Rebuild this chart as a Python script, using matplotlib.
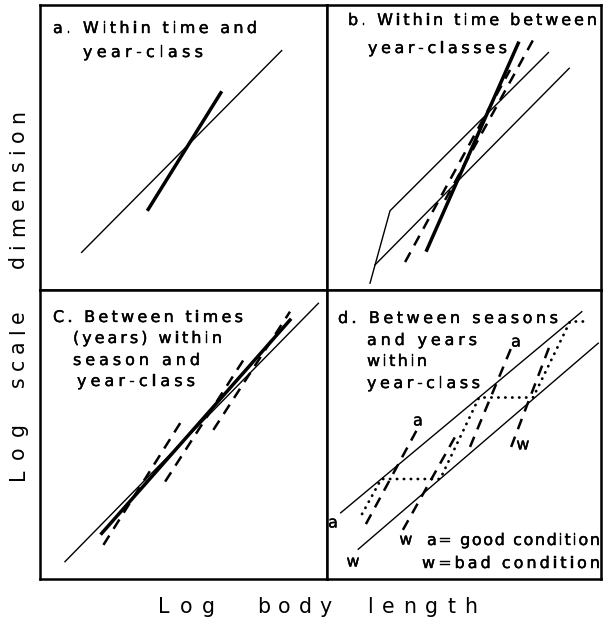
import matplotlib
matplotlib.use('Agg')
import matplotlib.pyplot as plt
import matplotlib.patheffects as pe
from matplotlib.font_manager import FontProperties, findfont, get_font

W, H, DPI = 606, 619, 100

# panel a: within time and year-class
a_thin_x = [14.5, 84.2]
a_thin_y = [13.2, 84.0]
a_thick_x = [37.7, 63.0]
a_thick_y = [28.3, 69.2]

# panel b: within time between year-classes
b_lower_x = [17.5, 88.4]
b_lower_y = [8.8, 77.8]
b_upper_x = [15.7, 23.0, 80.8]
b_upper_y = [2.4, 27.8, 83.3]
b_thick_x = [36.4, 69.8]
b_thick_y = [14.0, 86.6]
b_dash_x = [[28.5, 66.8], [43.1, 75.2]]
b_dash_y = [[9.8, 77.2], [31.6, 87.7]]

# panel c: between times within season and year-class
c_thin_x = [8.7, 97.0]
c_thin_y = [6.0, 95.4]
c_thick_x = [21.5, 87.1]
c_thick_y = [15.8, 89.6]
c_dash_x = [[22.1, 49.9], [43.6, 72.0], [60.4, 87.1]]
c_dash_y = [[11.8, 55.6], [33.7, 77.5], [51.6, 92.5]]

# panel d: between seasons and years, a = good, w = bad condition
d_good_x = [5.0, 93.0]
d_good_y = [22.9, 92.5]
d_bad_x = [11.4, 99.0]
d_bad_y = [10.3, 81.6]
d_path_x = [12.8, 19.8, 41.3, 55.5, 75.2, 88.7, 94.0]
d_path_y = [22.5, 34.6, 34.6, 62.8, 62.8, 89.1, 89.1]
d_dash_x = [[14.2, 32.8], [27.7, 46.7], [52.2, 67.2], [67.2, 81.4]]
d_dash_y = [[19.0, 51.6], [17.0, 49.1], [45.7, 79.9], [45.7, 81.0]]
d_mark_text = ['a', 'w', 'a', 'w', 'a', 'w']
d_mark_x = [2.2, 9.5, 33.2, 28.8, 69.0, 71.5]
d_mark_y = [19.4, 5.9, 54.7, 13.5, 82.0, 46.4]

THIN = 1.0
THICK = 2.5
DASH = dict(color='black', lw=1.8, linestyle=(0, (4.4, 3.2)))
DOT = dict(color='black', lw=2.0, linestyle=(0, (0.1, 2.4)),
           dash_capstyle='round')
# a little extra weight on the panel lettering
HEAVY = [pe.withStroke(linewidth=0.3, foreground='black')]


def spread_text(fig, s, start, end, base, size, rotation=0, effects=None):
    # letter-spaced text: characters are spread evenly between start and end
    # (pixels from the left / top of the figure)
    fp = FontProperties(family='DejaVu Sans', size=size)
    font = get_font(findfont(fp))
    font.set_size(size, DPI)
    adv = [font.load_char(ord(ch)).linearHoriAdvance / 65536 for ch in s]
    gap = (abs(end - start) - sum(adv)) / max(len(s) - 1, 1)
    pos = 0.0
    for ch, w in zip(s, adv):
        if ch != ' ':
            if rotation == 90:
                xy = (base / W, 1 - (start - pos) / H)
            else:
                xy = ((start + pos) / W, 1 - base / H)
            t = fig.text(xy[0], xy[1], ch, fontproperties=fp, rotation=rotation,
                         rotation_mode='anchor', ha='left', va='baseline')
            if effects:
                t.set_path_effects(effects)
        pos += w + gap


def setup_axes(fig):
    gs = fig.add_gridspec(2, 2, left=40 / W, right=601 / W,
                          top=1 - 5 / H, bottom=1 - 579 / H,
                          width_ratios=[287, 274], height_ratios=[285, 289],
                          wspace=0, hspace=0)
    axes = []
    for r in range(2):
        for c in range(2):
            ax = fig.add_subplot(gs[r, c])
            ax.set_xlim(0, 100)
            ax.set_ylim(0, 100)
            ax.set_xticks([])
            ax.set_yticks([])
            for sp in ax.spines.values():
                sp.set_linewidth(1.8)
            axes.append(ax)
    return axes


def draw_panels(axes):
    ax_a, ax_b, ax_c, ax_d = axes

    ax_a.plot(a_thin_x, a_thin_y, color='black', lw=THIN)
    ax_a.plot(a_thick_x, a_thick_y, color='black', lw=THICK)

    ax_b.plot(b_lower_x, b_lower_y, color='black', lw=THIN)
    ax_b.plot(b_upper_x, b_upper_y, color='black', lw=THIN)
    ax_b.plot(b_thick_x, b_thick_y, color='black', lw=THICK)
    for xs, ys in zip(b_dash_x, b_dash_y):
        ax_b.plot(xs, ys, **DASH)

    ax_c.plot(c_thin_x, c_thin_y, color='black', lw=THIN)
    ax_c.plot(c_thick_x, c_thick_y, color='black', lw=THICK)
    for xs, ys in zip(c_dash_x, c_dash_y):
        ax_c.plot(xs, ys, **DASH)

    ax_d.plot(d_good_x, d_good_y, color='black', lw=THIN)
    ax_d.plot(d_bad_x, d_bad_y, color='black', lw=THIN)
    ax_d.plot(d_path_x, d_path_y, **DOT)
    for xs, ys in zip(d_dash_x, d_dash_y):
        ax_d.plot(xs, ys, **DASH)
    for t, x, y in zip(d_mark_text, d_mark_x, d_mark_y):
        ax_d.text(x, y, t, fontsize=11.5, ha='center', va='center',
                  path_effects=HEAVY)


def draw_text(fig):
    lines = [
        ('a. Within time and', 53, 257, 33),
        ('year-class', 83, 203, 57),
        ('b. Within time between', 348, 597, 25),
        ('year-classes', 368, 507, 53),
        ('C. Between times', 53, 243, 322),
        ('(years) within', 73, 222, 343),
        ('season and', 73, 200, 365),
        ('year-class', 77, 195, 386),
        ('d. Between seasons', 338, 558, 323),
        ('and years', 367, 477, 345),
        ('within', 367, 427, 366),
        ('year-class', 367, 480, 388),
        ('a= good condition', 427, 600, 545),
        ('w=bad condition', 422, 600, 568),
    ]
    for s, x0, x1, y in lines:
        spread_text(fig, s, x0, x1, y, 11.5, effects=HEAVY)

    # axis titles
    for s, x0, x1 in [('Log', 158, 215), ('body', 257, 332), ('length', 367, 477)]:
        spread_text(fig, s, x0, x1, 613, 14.8)
    for s, y0, y1 in [('Log', 480, 423), ('scale', 387, 310), ('dimension', 268, 110)]:
        spread_text(fig, s, y0, y1, 24, 14.8, rotation=90)


def main():
    fig = plt.figure(figsize=(W / DPI, H / DPI), dpi=DPI)
    axes = setup_axes(fig)
    draw_panels(axes)
    draw_text(fig)
    fig.savefig('out.png', dpi=DPI)


if __name__ == '__main__':
    main()
